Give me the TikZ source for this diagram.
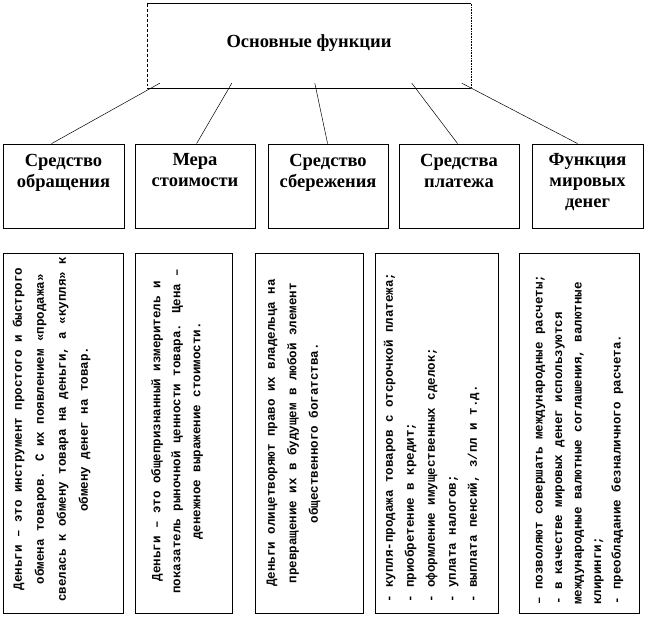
\documentclass[tikz,border=0pt]{standalone}
\usepackage{fontspec}
\setmainfont{Liberation Serif}
\newfontfamily\monofam{Liberation Mono}
\begin{document}
\begin{tikzpicture}[x=1bp,y=-1bp,
  box/.style={draw, line width=0.8bp, inner sep=0pt, rectangle},
  head/.style={font=\bfseries\fontsize{18.5bp}{21bp}\selectfont, align=center, inner sep=0pt, anchor=north},
  body/.style={font=\monofam\bfseries\fontsize{12.5bp}{21bp}\selectfont, inner sep=0pt, rotate=90},
  conn/.style={line width=0.5bp}]
\useasboundingbox (0,0) rectangle (663,628);
% top box
\node[inner sep=0pt, minimum width=324bp, minimum height=84bp] (top) at (309,46) {};
\draw[line width=0.8bp] (top.north west) -- (top.north east);
\draw[line width=0.8bp] (top.south west) -- (top.south east);
\draw[line width=0.6bp, densely dashed] (top.north west) -- (top.south west);
\draw[line width=0.6bp, densely dotted] (top.north east) -- (top.south east);
\node[head, anchor=center] (toptxt) at ([shift={(0,-3)}]top.center) {Основные функции};
% header boxes
\node[box, minimum width=121bp, minimum height=84bp] (h1) at (63.5,186) {};
\node[box, minimum width=120bp, minimum height=84bp] (h2) at (195,186) {};
\node[box, minimum width=120bp, minimum height=84bp] (h3) at (328,186) {};
\node[box, minimum width=120bp, minimum height=84bp] (h4) at (459,186) {};
\node[box, minimum width=111bp, minimum height=84bp] (h5) at (587.5,186) {};
\node[head] (h1t) at ([shift={(0,10)}]h1.north) {Средство\\обращения};
\node[head] (h2t) at ([shift={(0,10)}]h2.north) {Мера\\стоимости};
\node[head] (h3t) at ([shift={(0,10)}]h3.north) {Средство\\сбережения};
\node[head] (h4t) at ([shift={(0,10)}]h4.north) {Средства\\платежа};
\node[head] (h5t) at ([shift={(0,10)}]h5.north) {Функция\\мировых\\денег};
% connectors
\draw[conn] ([shift={(13,-5)}]top.south west) -- ([shift={(49,0)}]h1.north west);
\draw[conn] ([shift={(85,-5)}]top.south west) -- ([shift={(62,0)}]h2.north west);
\draw[conn] ([shift={(168,-5)}]top.south west) -- ([shift={(60,0)}]h3.north west);
\draw[conn] ([shift={(265,-5)}]top.south west) -- ([shift={(59,0)}]h4.north west);
\draw[conn] ([shift={(315,-5)}]top.south west) -- ([shift={(46,0)}]h5.north west);
% bottom boxes
\node[box, minimum width=120bp, minimum height=360bp] (b1) at (63,433) {};
\node[box, minimum width=97bp, minimum height=360bp] (b2) at (183.5,433) {};
\node[box, minimum width=108bp, minimum height=360bp] (b3) at (309,433) {};
\node[box, minimum width=123bp, minimum height=360bp] (b4) at (436.5,433) {};
\node[box, minimum width=120bp, minimum height=360bp] (b5) at (579,433) {};
\node[body, align=center, font=\monofam\bfseries\fontsize{12.5bp}{22bp}\selectfont] (b1t) at (51.5,429)
 {Деньги – это инструмент простого и быстрого\\обмена товаров. С их появлением «продажа»\\свелась к обмену товара на деньги, а «купля» к\\обмену денег на товар.};
\node[body, align=center, font=\monofam\bfseries\fontsize{12.5bp}{20bp}\selectfont] (b2t) at (177,431)
 {Деньги – это общепризнанный измеритель и\\показатель рыночной ценности товара. Цена –\\денежное выражение стоимости.};
\node[body, align=center, font=\monofam\bfseries\fontsize{12.5bp}{21.5bp}\selectfont] (b3t) at (293.5,433)
 {Деньги олицетворяют право их владельца на\\превращение их в будущем в любой элемент\\общественного богатства.};
\node[body, align=left, anchor=west] (b4t) at (431.5,603)
 {- купля-продажа товаров с отсрочкой платежа;\\- приобретение в кредит;\\- оформление имущественных сделок;\\- уплата налогов;\\- выплата пенсий, з/пл и т.д.};
\node[body, align=left, anchor=west, font=\monofam\bfseries\fontsize{12.5bp}{19.5bp}\selectfont] (b5t) at (579.5,605)
 {– позволяют совершать международные расчеты;\\- в качестве мировых денег используются\\международные валютные соглашения, валютные\\клиринги;\\- преобладание безналичного расчета.};
\end{tikzpicture}
\end{document}
